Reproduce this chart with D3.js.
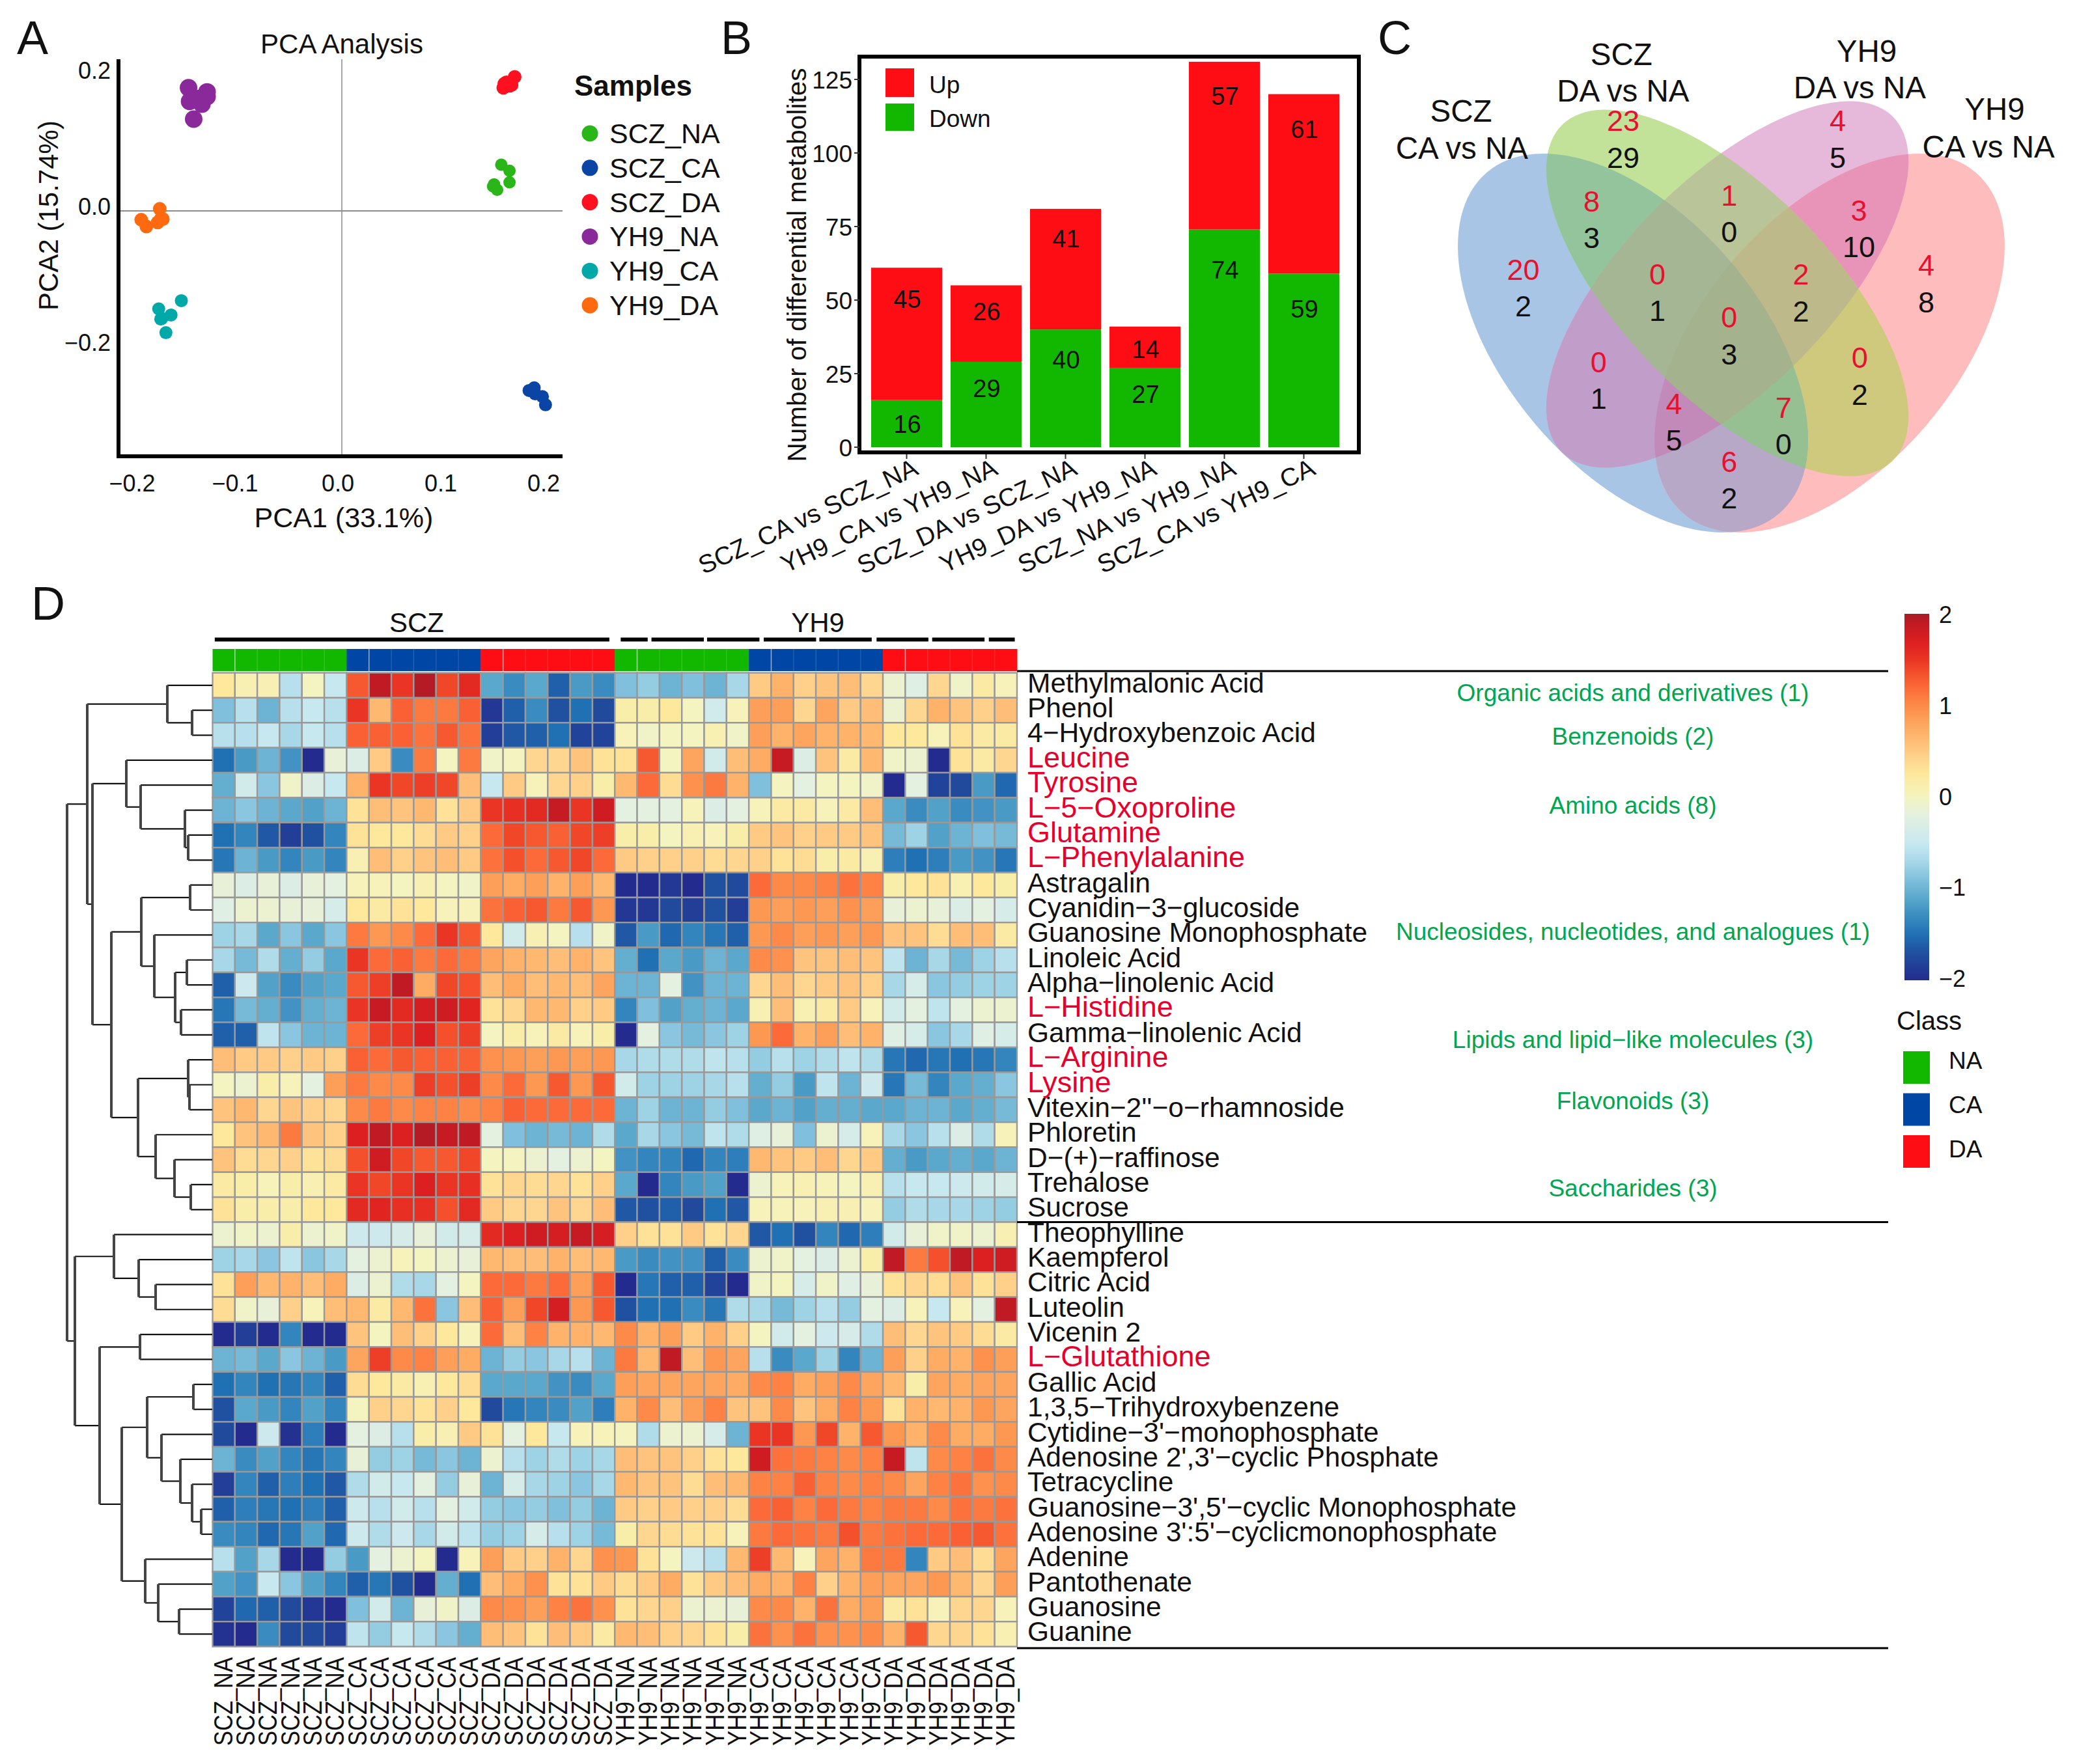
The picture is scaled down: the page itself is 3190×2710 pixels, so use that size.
<!DOCTYPE html>
<html><head><meta charset="utf-8">
<script src="https://cdnjs.cloudflare.com/ajax/libs/d3/7.8.5/d3.min.js"></script>
<style>html,body{margin:0;padding:0;background:#fff}svg{display:block}text{font-family:"Liberation Sans",Arial,sans-serif}</style>
</head><body><svg id="c" width="3190" height="2710"></svg>
<script>
// ---------- Panel A data ----------
const pcaGroups=["SCZ_NA","SCZ_CA","SCZ_DA","YH9_NA","YH9_CA","YH9_DA"];
const pcaColors=["#2ab518","#0a45a5","#ff1020","#8a2a9a","#00a8a8","#ff6a10"];
const pcaRadius=[9.5,10,10.5,13.5,10,10.5];
const pc1=[[.155,.163,.163,.148,.151,.147],[.187,.182,.188,.195,.198,.186],[.168,.165,.160,.157,.163,.158],[-.149,-.131,-.140,-.148,-.136,-.144,-.131],[-.156,-.178,-.166,-.176,-.171,-.175],[-.177,-.195,-.174,-.190,-.179,-.176]];
const pc2=[[.068,.059,.042,.039,.031,.036],[-.260,-.264,-.269,-.273,-.285,-.265],[.197,.185,.189,.181,.184,.187],[.181,.175,.165,.161,.157,.135,.168],[-.132,-.144,-.153,-.159,-.179,-.158],[.003,-.013,-.012,-.023,-.017,-.012]];
const pcaXTicks=[-.2,-.1,0,.1,.2];
const pcaYTicks=[-.2,0,.2];
// ---------- Panel B data ----------
const barNames=["SCZ_CA vs SCZ_NA","YH9_CA vs YH9_NA","SCZ_DA vs SCZ_NA","YH9_DA vs YH9_NA","SCZ_NA vs YH9_NA","SCZ_CA vs YH9_CA"];
const barUp=[45,26,41,14,57,61];
const barDown=[16,29,40,27,74,59];
const upLabelAt=[50.4,46.2,71,33.4,119.5,108.2];
const downLabelAt=[8,20.1,29.9,18.1,60.5,47.1];
const barTicks=[0,25,50,75,100,125];
// ---------- Panel C data ----------
const vennUp=[20,23,4,4,8,1,3,0,2,0,0,4,7,0,6];
const vennDown=[2,29,5,8,3,0,10,1,2,3,1,5,0,2,2];
const vennPosX=[936,1050,1295,1396,1014,1171,1319,1089,1253,1171,1022,1108,1233,1320,1171];
const vennPosUpY=[737,330,330,725,550,535,575,750,750,868,990,1105,1115,978,1263];
const vennPosDownY=[837,432,432,827,650,635,675,850,852,970,1090,1205,1215,1080,1363];
const vennSets=[
 {id:"B",cx:2508,cy:527,a:345,b:195,rot:49.4},
 {id:"R",cx:2810,cy:527,a:345,b:195,rot:-49.4},
 {id:"G",cx:2653,cy:450,a:362,b:160,rot:45.5},
 {id:"P",cx:2653,cy:437,a:362,b:160,rot:-45.5}];
const vennRegions=["B","G","P","R","BG","GP","PR","BP","GR","BR","BGP","GPR","BPR","BGR","BGPR"];
const vennRegionColors=["#a9c5e5","#c2e29a","#e6b8da","#ffbcbc","#93c49c","#b9c598","#e893b8","#c19ec9","#cfc97e","#b8a8c8","#a5b694","#bdb98a","#c28ab8","#96bf92","#a4b38e"];
const vennTitles=[["SCZ",865,305],["CA vs NA",866,407],["SCZ",1048,150],["DA vs NA",1050,250],["YH9",1328,140],["DA vs NA",1320,240],["YH9",1474,300],["CA vs NA",1467,402]];
// ---------- Panel D data ----------
const rowNames=["Methylmalonic Acid","Phenol","4\u2212Hydroxybenzoic Acid","Leucine","Tyrosine","L\u22125\u2212Oxoproline","Glutamine","L\u2212Phenylalanine","Astragalin","Cyanidin\u22123\u2212glucoside","Guanosine Monophosphate","Linoleic Acid","Alpha\u2212linolenic Acid","L\u2212Histidine","Gamma\u2212linolenic Acid","L\u2212Arginine","Lysine","Vitexin\u22122''\u2212o\u2212rhamnoside","Phloretin","D\u2212(+)\u2212raffinose","Trehalose","Sucrose","Theophylline","Kaempferol","Citric Acid","Luteolin","Vicenin 2","L\u2212Glutathione","Gallic Acid","1,3,5\u2212Trihydroxybenzene","Cytidine\u22123'\u2212monophosphate","Adenosine 2',3'\u2212cyclic Phosphate","Tetracycline","Guanosine\u22123',5'\u2212cyclic Monophosphate","Adenosine 3':5'\u2212cyclicmonophosphate","Adenine","Pantothenate","Guanosine","Guanine"];
const redRows=["Leucine","Tyrosine","L\u22125\u2212Oxoproline","Glutamine","L\u2212Phenylalanine","L\u2212Histidine","L\u2212Arginine","Lysine","L\u2212Glutathione"];
const colNames=["SCZ_NA","SCZ_CA","SCZ_DA","YH9_NA","YH9_CA","YH9_DA"].flatMap(d=>Array(6).fill(d));
const heat=[
[.25,.1,.1,-.6,0,-.5, 1.3,1.9,1.5,1.95,1.4,1.6, -1.1,-1.3,-1.1,-1.6,-1.2,-1.3, -.9,-.8,-1,-.9,-1,-.7, .5,.7,.45,.55,.6,.4, -.1,-.25,.4,-.05,.2,.05],
[-.9,-.6,-1,-.6,-.5,-.6, 1.5,.65,1.25,1.1,1.1,1.25, -1.9,-1.6,-1.3,-1.7,-1.5,-1.75, .15,.15,.25,0,-.4,.05, .85,.85,.4,.8,.5,.6, -.1,.4,.7,.55,.45,.6],
[-.6,-.6,-.5,-.7,-.5,-.6, 1.25,1.25,1.25,1.15,1.3,1.15, -1.85,-1.65,-1.6,-1.5,-1.8,-1.8, .05,-.05,0,0,.1,-.05, .85,.7,.8,.7,.7,.65, .25,.25,.05,.3,.2,.2],
[-1.5,-1.2,-1,-1.25,-2,-.15, -.3,.5,-1.3,1.1,0,1.1, -.05,0,.4,.4,.55,.3, .3,1.3,0,.8,-.4,.6, .75,1.85,-.3,.55,.2,.65, -.05,-.1,-2,.3,.2,.4],
[-1.05,-.4,-.85,-.05,-.3,-.5, .7,1.5,1.4,1.45,1.4,.6, -.5,.5,.05,.4,.45,.15, .65,1.2,.35,.95,1.1,.7, -.9,0,-.2,0,0,-.05, -2,-.2,-1.8,-1.75,-1.2,-1.55],
[-1,-.85,-1,-1.1,-1.15,-1, .3,.6,.55,.65,.3,.5, 1.5,1.55,1.6,1.85,1.5,1.8, -.2,-.2,-.2,.05,-.3,-.2, .05,.2,.2,.05,.2,.6, -1.1,-1.3,-1.15,-1.3,-1.25,-1.2],
[-1.5,-1.35,-1.65,-1.85,-1.7,-1.35, .3,.25,.25,.35,.5,.45, 1.2,1.4,1.3,1.25,1.4,1.45, .15,.15,0,.1,.05,.15, .5,.55,.45,.5,.5,.55, -.95,-.75,-1.15,-1,-.9,-.95],
[-1.45,-1,-1.2,-1.35,-1.2,-1.35, .1,.6,.45,.55,.6,.5, 1.15,1.35,1.2,1.3,1.4,1.2, .5,.45,.45,.45,.35,.4, .45,.3,.35,.15,.2,.1, -1.4,-1.5,-1.4,-1.2,-1.25,-1.45],
[-.15,-.3,-.15,-.3,-.15,-.2, .05,.05,0,.1,0,-.05, .85,.75,.85,.7,.85,.65, -2,-2,-1.9,-2,-1.7,-1.75, 1.2,1,1,1.05,1.15,1.05, .15,.25,.3,.1,.25,.15],
[-.25,-.1,-.1,-.15,-.15,-.35, .25,.2,.3,.25,.05,.05, 1.15,1.25,1.3,1.1,1.3,.9, -1.9,-1.9,-1.75,-1.85,-1.7,-1.85, .9,.85,.9,.85,.95,.85, -.15,-.1,-.15,-.3,-.2,-.35],
[-.75,-.7,-1.1,-.85,-1.1,-.85, 1.1,.9,1,1.2,1.5,1.3, .25,-.4,.1,0,-.6,-.05, -1.65,-1.2,-1.55,-1.35,-1.45,-1.6, .9,1,.85,.9,.85,.9, .55,.55,.35,.6,.6,.2],
[-.7,-.95,-.65,-1.05,-.8,-1.1, 1.5,1.2,1.25,1.1,1.2,1.1, .8,.7,.65,.6,.7,.55, -1.05,-1.5,-1.1,-1.2,-1,-1.1, 1,.95,.55,.55,.6,.55, -.55,-1,-.7,-.95,-.75,-.6],
[-1.6,-.45,-1.15,-1.3,-1.15,-1.1, 1.3,1.45,1.9,.75,1.4,1.35, .6,.75,.6,.65,.6,.8, -1,-1,-.2,-1.25,-1,-1, .4,.6,.4,.5,.55,.45, -.7,-.35,-.85,-.8,-.75,-.75],
[-1.45,-.95,-1.05,-1.25,-1.05,-1, 1.5,1.85,1.6,1.75,1.8,1.65, .3,.4,.65,.65,.45,.5, -1.35,-.9,-1.15,-1.05,-1,-1.1, .1,.6,.1,.2,.5,.05, -.4,-.2,-.55,-.2,-.1,-.1],
[-1.6,-1.6,-.55,-.85,-1,-1, 1.2,1.45,1.5,1.7,1.35,1.45, 0,.15,.05,.2,.05,.15, -2,-.2,-.85,-.95,-.85,-.75, .9,1.2,.7,.85,.6,.7, -.25,-.35,-.85,-.7,-.25,-.35],
[.6,.5,.5,.45,.5,.45, 1.25,1.2,1.3,1.25,1.25,1.25, .95,.9,.85,.9,.85,.9, -.7,-.65,-.65,-.65,-.55,-.6, -.8,-.6,-.75,-.65,-.55,-.65, -1.45,-1.55,-1.45,-1.5,-1.45,-1.35],
[0,-.1,.15,.05,-.2,.85, 1.1,1,1,1.45,1.35,1.45, 1,1.2,.9,1.3,.9,1.3, -.4,-.75,-.75,-.75,-.7,-.6, -1.05,-.8,-1.2,-.55,-1,-.45, -1.45,-.95,-1.35,-1.1,-1.05,-.85],
[.55,.65,.4,.55,.45,.4, 1,1.1,1,1.05,1.05,1, 1.05,1.25,1.2,1.2,1.2,1.2, -1,-.75,-1,-1,-.8,-.9, -1.1,-1,-1.15,-1.05,-1.05,-1.1, -1.1,-1,-1,-1.1,-1.05,-.95],
[.25,.55,.65,1.1,.55,.45, 1.7,1.9,1.7,1.95,1.85,1.9, -.2,-.9,-1,-.95,-1,-.65, -1.1,-.7,-.85,-.95,-.55,-.65, -.25,-.15,-.9,-.1,-.35,.05, -.7,-.85,-.6,-.3,-.65,.05],
[.55,.35,.4,.45,.3,.35, 1.35,1.8,1.4,1.3,1.3,1.4, 0,0,-.1,-.2,-.1,0, -1.25,-1.35,-1.35,-1.55,-1.35,-1.4, .65,.55,.5,.6,.4,.5, -1.05,-1.2,-1.1,-1.05,-1.1,-1],
[.2,.15,.05,.15,.1,.2, 1.5,1.4,1.5,1.7,1.5,1.55, .3,.4,.35,.4,.3,.45, -1.1,-2,-1.35,-1.2,-1.15,-2, -.1,.05,.1,.05,0,.1, -.6,-.5,-.5,-.45,-.4,-.35],
[.3,.15,.15,.15,.25,.25, 1.6,1.65,1.55,1.55,1.35,1.6, .5,.4,.4,.55,.4,.6, -1.65,-1.7,-1.6,-1.75,-1.5,-1.65, .05,.05,.05,.1,.1,.05, -.8,-.65,-.7,-.7,-.75,-.8],
[-.1,-.05,-.1,.15,-.1,-.05, -.45,-.45,-.35,-.15,-.4,-.35, 1.6,1.7,1.8,1.75,1.85,1.75, .45,.3,.3,.5,.3,.4, -1.65,-1.5,-1.7,-1.35,-1.55,-1.4, -.4,-.15,-.05,-.05,-.1,.1],
[-.75,-.7,-.85,-.55,-.85,-.7, -.2,-.1,.05,0,-.1,-.15, .65,.6,.6,.7,.6,.65, -1.2,-1.3,-1.25,-1.25,-1.6,-1.3, -.1,-.05,-.2,-.3,-.1,.15, 1.9,1.1,1.35,1.9,1.7,1.8],
[.3,.85,.65,.7,.6,.75, -.3,-.1,-.65,-.7,-.2,0, 1.2,1.2,1.1,1.2,.85,1.3, -2,-1.45,-1.6,-1.6,-1.8,-2, -.05,0,-.35,-.05,-.25,-.15, .3,.4,.35,.55,.3,.45],
[.35,-.05,-.15,.45,.05,.6, .65,.2,.65,1.15,-.85,.6, 1.25,.85,1.4,1.75,.9,1.3, -1.7,-1.5,-1.5,-1.3,-1.45,-.65, -.7,-.95,-.75,-.6,-.8,-.2, -.3,.05,-.5,.05,-.2,1.9],
[-2,-1.85,-2,-1.35,-2,-2, .55,0,.6,.45,.25,.05, 1.2,.6,1.05,.7,.7,.65, 1,.7,.85,.5,.7,.45, 0,-.4,-.2,-.45,-.35,-.65, .6,.4,.55,.5,.35,.2],
[-1,-.95,-1.1,-.85,-1,-1.2, .8,1.45,1,1.05,.85,.75, -1,-.8,-.85,-.7,-.6,-1, 1.1,.65,1.9,.6,.9,.8, -.6,-1.3,-1.1,-.75,-1.35,-1, .85,.45,.75,.7,.95,.85],
[-1.5,-1.35,-1.5,-1.45,-1.35,-1.6, .35,.25,.2,.1,.25,.35, -1.1,-1.1,-1.1,-1.25,-1.3,-1.1, .85,.8,.8,.8,.8,.75, 1,1.05,.75,.85,1,.8, .65,.15,.8,.75,.8,.8],
[-1.7,-1.1,-1.2,-1.35,-1.15,-1.35, 0,.45,.4,.3,.45,.25, -1.75,-1.45,-1.35,-1.3,-1.15,-1.4, .7,1,.6,.85,1.05,.55, .55,1,.55,.75,1.05,.9, .3,.7,.65,.7,.9,.8],
[-1.75,-2,-.45,-1.95,-1.4,-2, -.2,-.3,-.6,.15,.1,.5, .3,-.2,.25,-.5,.05,.05, 0,-.65,-.1,-.1,-.35,-1, 1.5,1.5,.9,1.4,.7,1.3, .9,.7,1,.75,.75,.9],
[-1,-1.3,-1.15,-1.35,-1.45,-1.35, -.15,-.8,-.75,-.95,-.85,-1, -.1,-.6,-.75,-.65,-.75,-.7, .6,.55,.55,.45,.3,.25, 1.8,1.15,1.1,1.05,1,1.05, 1.85,-.55,1,1.05,1.15,1],
[-1.85,-1.35,-1.6,-1.4,-1.5,-1.65, -.65,-.4,-.5,-.2,-.8,-.15, -1,-.35,-.7,-.75,-.85,-.7, .65,.55,.55,.35,.6,.65, 1.05,1.05,1.25,1.05,1,1.05, 1,.8,1.05,1.15,.95,1],
[-1.6,-1.4,-1.45,-1.5,-1.4,-1.6, -.45,-.6,-.4,-.6,-.2,-.4, -.8,-.85,-.8,-.9,-.8,-1, .5,.45,.5,.45,.45,.35, 1.2,1.25,1.05,1.2,1.1,1.05, 1.1,1.1,1,1.15,1.1,1.15],
[-1.3,-1.35,-1.55,-1.45,-1.15,-1.55, -.45,-.65,-.45,-.7,-.4,-.55, -.8,-.75,-.35,-.6,-.75,-.95, .15,.4,.35,.3,.3,.05, 1.1,1.2,1.15,1.1,1.35,1.1, 1.15,1.2,1.2,1.25,1.3,1.15],
[-.6,-1.15,-.7,-2,-2,-.8, -1.2,-.2,-.1,0,-2,.05, .85,.5,.45,.7,.4,.95, .9,.3,0,-.45,-.6,.65, 1.45,.65,.05,.8,.7,1.1, 1.1,-1.35,.5,.6,.35,.8],
[-1.15,-1.25,-.5,-.85,-1.15,-1.35, -1.6,-1.45,-1.7,-2,-1.05,-1.5, .6,.75,.95,.3,.3,.5, .35,.5,.75,.3,.5,.6, .75,.7,1.05,.45,.7,.85, .8,.8,.9,.65,.4,.85],
[-1.8,-1.55,-1.6,-1.75,-1.9,-2, -.9,-.4,-1,-.15,-.05,-.3, 1,.95,.85,1.05,1.15,.95, .3,.4,.45,-.1,-.1,-.15, 1,1,.7,1.15,.75,.85, .2,.3,.05,.4,.4,.05],
[-1.95,-2,-1.3,-1.75,-1.75,-1.85, -.55,-.8,-.5,-.65,-.85,-1.05, .6,.55,.3,.6,.5,.2, .65,.6,.45,.4,.3,.15, 1.15,.95,1.15,.95,.95,1, .7,1.3,.4,.4,.3,.1]];
const colorStops=[-2,-1.7,-1.5,-1.3,-1.1,-.9,-.7,-.5,-.2,0,.25,.45,.65,.85,1,1.2,1.35,1.5,1.7,1.9,2];
const colorRamp=["#232c8e","#2050a0","#2070b4","#3a8cc0","#5aa8cc","#80c0dc","#a8d8e8","#c8e8f0","#e4f0e0","#f4f4c0","#fde89c","#fed08a","#feb870","#fd9f58","#fd8a48","#fb6a38","#f4502c","#ea3524","#dc1f20","#c01a24","#a81c25"];
const classNames=["NA","CA","DA"];
const classColors=["#12b800","#0046a4","#ff0d14"];
const classLabels=[["Organic acids and derivatives (1)",1065],["Benzenoids (2)",1132],["Amino acids (8)",1238],["Nucleosides, nucleotides, and analogues (1)",1432],["Lipids and lipid\u2212like molecules (3)",1598],["Flavonoids (3)",1692],["Saccharides (3)",1826]];
const yh9Dashes=[[788,838],[845,942],[948,1045],[1053,1150],[1156,1253],[1262,1358],[1365,1462],[1470,1518]];
const separatorRows=[0,22,39];
// dendrogram: [distance from leaves, left, right]; numbers are leaf indices
const dendro=[223,
 [192,[69,0,[31,1,2]],
  [184,[132,3,[110,4,[42,5,[37,6,7]]]],
   [155,[109,[34,8,9],[89,10,[57,[39,11,12],[48,13,14]]]],
        [114,[37,15,[35,16,17]],[87,18,[58,19,[33,20,21]]]]]]],
 [211,[151,22,[113,23,[87,24,25]]],
  [173,[111,26,27],
   [139,[100,[29,28,29],[78,30,[49,31,[31,32,[17,33,34]]]]],
        [103,35,[83,36,[51,37,38]]]]]]];

// ---------- helpers ----------
const svg=d3.select("#c");
function txt(g,s,x,y,size,o={}){const t=g.append("text").attr("x",x).attr("y",y).attr("font-size",size).attr("fill",o.fill||"#111").attr("text-anchor",o.anchor||"start").text(s);
 if(o.weight)t.attr("font-weight",o.weight); if(o.transform)t.attr("transform",o.transform); return t;}
[["A",26,83],["B",1107,83],["C",2116,83],["D",48,952]].forEach(d=>txt(svg,d[0],d[1],d[2],72));
const fmt=v=>d3.format(".1f")(v).replace("-","\u2212");

// ---------- Panel A ----------
(function(){
 const g=svg.append("g");
 const x=d3.scaleLinear().domain([-.2,.2]).range([209,841]);
 const y=d3.scaleLinear().domain([-.2,.2]).range([533,115]);
 const left=182,right=864,top=91,bottom=701;
 g.append("line").attr("x1",x(0)).attr("x2",x(0)).attr("y1",top).attr("y2",bottom).attr("stroke","#a5a5a5").attr("stroke-width",2);
 g.append("line").attr("x1",left).attr("x2",right).attr("y1",y(0)).attr("y2",y(0)).attr("stroke","#8c8c8c").attr("stroke-width",2);
 g.append("path").attr("d",`M${left},${top}V${bottom}H${right}`).attr("fill","none").attr("stroke","#000").attr("stroke-width",6);
 pcaXTicks.forEach(v=>txt(g,fmt(v),x(v)-6,755,36,{anchor:"middle"}));
 pcaYTicks.forEach(v=>txt(g,fmt(v),170,y(v)+6,36,{anchor:"end"}));
 pcaGroups.forEach((n,i)=>{
  g.append("g").selectAll("circle").data(pc1[i]).join("circle").attr("cx",d=>x(d)).attr("cy",(d,j)=>y(pc2[i][j])).attr("r",pcaRadius[i]).attr("fill",pcaColors[i]);
  g.append("circle").attr("cx",906).attr("cy",205+i*52.8).attr("r",12.5).attr("fill",pcaColors[i]);
  txt(g,n,936,205+i*52.8+15,43);
 });
 txt(g,"PCA Analysis",525,82,42,{anchor:"middle"});
 txt(g,"PCA1 (33.1%)",528,810,43,{anchor:"middle"});
 txt(g,"PCA2 (15.74%)",0,0,42,{anchor:"middle",transform:"translate(89,331) rotate(-90)"});
 txt(g,"Samples",882,147,44,{weight:"bold"});
})();

// ---------- Panel B ----------
(function(){
 const g=svg.append("g");
 const y=d3.scaleLinear().domain([0,125]).range([687,122]);
 const x=d3.scaleBand().domain(barNames).range([1338,2057]).paddingInner(13/122);
 const w=x.bandwidth(), centre=n=>x(n)+w/2;
 barNames.forEach((n,i)=>{
  g.append("rect").attr("x",x(n)).attr("width",w).attr("y",y(barDown[i])).attr("height",y(0)-y(barDown[i])).attr("fill","#12b800");
  g.append("rect").attr("x",x(n)).attr("width",w).attr("y",y(barDown[i]+barUp[i])).attr("height",y(0)-y(barUp[i])).attr("fill","#ff0d14");
  txt(g,barUp[i],centre(n)+1,y(upLabelAt[i])+14,38,{anchor:"middle"});
  txt(g,barDown[i],centre(n)+1,y(downLabelAt[i])+14,38,{anchor:"middle"});
  g.append("line").attr("x1",centre(n)).attr("x2",centre(n)).attr("y1",695).attr("y2",705).attr("stroke","#333").attr("stroke-width",2);
  txt(g,n,0,0,39,{anchor:"end",transform:`translate(${centre(n)+20},728) rotate(-25)`});
 });
 g.append("rect").attr("x",1320).attr("y",87).attr("width",767).attr("height",608).attr("fill","none").attr("stroke","#000").attr("stroke-width",6);
 barTicks.forEach(v=>{
  txt(g,v,1309,y(v)+14,37,{anchor:"end"});
  g.append("line").attr("x1",1312).attr("x2",1320).attr("y1",y(v)).attr("y2",y(v)).attr("stroke","#333").attr("stroke-width",2);
 });
 txt(g,"Number of differential metabolites",0,0,40.5,{anchor:"middle",transform:"translate(1238,407) rotate(-90)"});
 g.append("rect").attr("x",1360).attr("y",105).attr("width",44).attr("height",44).attr("fill","#ff0d14");
 g.append("rect").attr("x",1360).attr("y",159).attr("width",44).attr("height",42).attr("fill","#12b800");
 txt(g,"Up",1427,143,37); txt(g,"Down",1427,195,37);
})();

// ---------- Panel C ----------
(function(){
 const g=svg.append("g");
 const vx=d3.scaleLinear().domain([0,1568]).range([1080,3190]);
 const vy=d3.scaleLinear().domain([0,1568]).range([0,880]);
 const defs=svg.append("defs");
 const tf=e=>`translate(${e.cx},${e.cy}) rotate(${e.rot})`;
 vennSets.forEach(e=>defs.append("clipPath").attr("id","v"+e.id).append("ellipse").attr("rx",e.a).attr("ry",e.b).attr("transform",tf(e)));
 // each region is painted clipped to its sets, so the exact blended colour of the picture is kept
 vennRegions.forEach((r,i)=>{
  let host=g; const ids=r.split("");
  ids.slice(1).forEach(id=>{host=host.append("g").attr("clip-path",`url(#v${id})`);});
  const e=vennSets.find(s=>s.id==ids[0]);
  host.append("ellipse").attr("rx",e.a).attr("ry",e.b).attr("transform",tf(e)).attr("fill",vennRegionColors[i]);
 });
 vennTitles.forEach(t=>txt(g,t[0],vx(t[1]),vy(t[2])+16,47.5,{anchor:"middle"}));
 vennUp.forEach((v,i)=>{
  txt(g,v,vx(vennPosX[i]),vy(vennPosUpY[i])+16,45,{anchor:"middle",fill:"#e8102f"});
  txt(g,vennDown[i],vx(vennPosX[i]),vy(vennPosDownY[i])+16,45,{anchor:"middle"});
 });
})();

// ---------- Panel D ----------
(function(){
 const g=svg.append("g");
 const nR=rowNames.length,nC=colNames.length;
 const x=d3.scaleBand().domain(d3.range(nC)).range([326.5,1562]);
 const y=d3.scaleBand().domain(d3.range(nR)).range([1033.6,2529.6]);
 const color=d3.scaleLinear().domain(colorStops).range(colorRamp);
 colNames.forEach((c,i)=>g.append("rect").attr("x",x(i)).attr("y",997).attr("width",x.bandwidth()+.5).attr("height",34)
   .attr("fill",classColors[classNames.indexOf(c.split("_")[1])]));
 colNames.forEach((c,i)=>{ if(i%6==1) g.append("line").attr("x1",x(i)).attr("x2",x(i)).attr("y1",997).attr("y2",1031).attr("stroke","#fff").attr("stroke-opacity",.55).attr("stroke-width",1.6);
   else if(i%6) g.append("line").attr("x1",x(i)).attr("x2",x(i)).attr("y1",997).attr("y2",1031).attr("stroke","#fff").attr("stroke-opacity",.12).attr("stroke-width",1.5); });
 const rows=g.append("g").attr("stroke","#999").attr("stroke-width",2.4);
 heat.forEach((r,i)=>rows.append("g").selectAll("rect").data(r).join("rect")
   .attr("x",(d,j)=>x(j)).attr("y",y(i)).attr("width",x.bandwidth()).attr("height",y.bandwidth()).attr("fill",d=>color(d)));
 const bx=d3.scaleLinear().domain([0,1568]).range([300,1600]);
 g.append("line").attr("x1",bx(36)).attr("x2",bx(767)).attr("y1",982.5).attr("y2",982.5).attr("stroke","#000").attr("stroke-width",6);
 yh9Dashes.forEach(d=>g.append("line").attr("x1",bx(d[0])).attr("x2",bx(d[1])).attr("y1",982.5).attr("y2",982.5).attr("stroke","#000").attr("stroke-width",6));
 txt(g,"SCZ",640,971,42,{anchor:"middle"}); txt(g,"YH9",1256,971,42,{anchor:"middle"});
 rowNames.forEach((n,i)=>{const red=redRows.includes(n);
   txt(g,n,1578,y(i)+y.bandwidth()/2+11,red?45:42.5,{fill:red?"#e8002d":"#111"});});
 separatorRows.forEach(r=>{const yy=r==0?1031:(r==39?2532:y(r));g.append("line").attr("x1",1562).attr("x2",2900).attr("y1",yy).attr("y2",yy).attr("stroke","#000").attr("stroke-width",3);});
 colNames.forEach((n,i)=>txt(g,n,0,0,40,{anchor:"end",transform:`translate(${x(i)+x.bandwidth()/2+13},2546) rotate(-90)`}).attr("textLength",136).attr("lengthAdjust","spacingAndGlyphs"));
 classLabels.forEach(c=>txt(g,c[0],2508,c[1]+12,37,{anchor:"middle",fill:"#00a651"}));
 const grad=svg.append("defs").append("linearGradient").attr("id","cb").attr("x1",0).attr("x2",0).attr("y1",1).attr("y2",0);
 colorStops.forEach((s,i)=>grad.append("stop").attr("offset",(s+2)/4).attr("stop-color",colorRamp[i]));
 g.append("rect").attr("x",2925).attr("y",943).attr("width",38).attr("height",563).attr("fill","url(#cb)");
 const cb=d3.scaleLinear().domain([-2,2]).range([1503,944]);
 [2,1,0,-1,-2].forEach(v=>txt(g,String(v).replace("-","\u2212"),2978,cb(v)+13,36));
 txt(g,"Class",2913,1582,40);
 classNames.forEach((n,i)=>{
  g.append("rect").attr("x",2923).attr("y",1615+i*64.5).attr("width",41).attr("height",50).attr("fill",classColors[i]);
  txt(g,n,2993,1642+i*68,37);
 });
 const dx=d3.scaleLinear().domain([0,223]).range([326,103]);
 const leafY=i=>y(i)+y.bandwidth()/2;
 const hor=g.append("g").attr("stroke","#111").attr("stroke-width",2.2).attr("fill","none");
 const ver=g.append("g").attr("stroke","#444").attr("stroke-width",4).attr("fill","none");
 (function walk(n){
  if(typeof n==="number")return {h:0,y:leafY(n)};
  const a=walk(n[1]),b=walk(n[2]),h=n[0],m=(a.y+b.y)/2;
  ver.append("line").attr("x1",dx(h)).attr("x2",dx(h)).attr("y1",a.y).attr("y2",b.y);
  [a,b].forEach(c=>hor.append("line").attr("x1",dx(h)).attr("x2",dx(c.h)).attr("y1",c.y).attr("y2",c.y));
  return {h,y:m};
 })(dendro);
})();
</script></body></html>
